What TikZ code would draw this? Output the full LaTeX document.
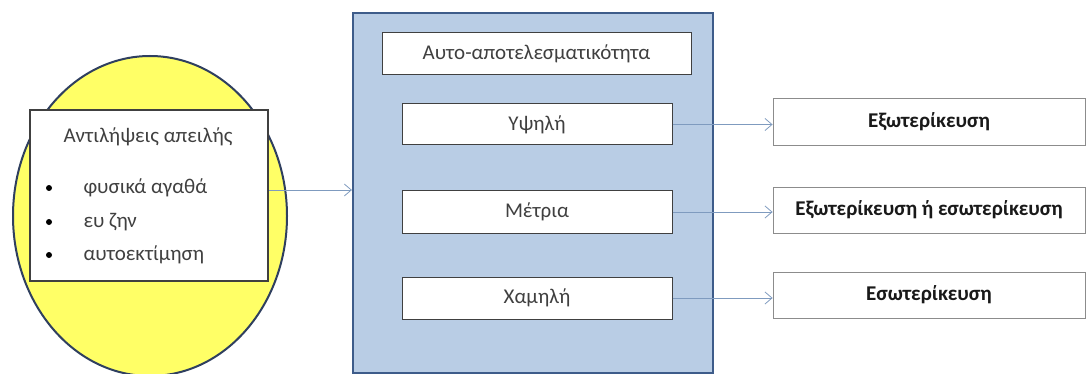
\documentclass[tikz,border=0pt]{standalone}
\usepackage{fontspec}
\setmainfont{Carlito}
\usetikzlibrary{arrows.meta}
\definecolor{ellfill}{HTML}{FFFF66}
\definecolor{bluefill}{HTML}{B9CDE5}
\definecolor{blueedge}{HTML}{3E5C8A}
\definecolor{elledge}{HTML}{2F3F5F}
\definecolor{arrowc}{HTML}{7F9BBF}
\definecolor{txt}{HTML}{404040}
\tikzset{
  txtf/.style={font=\fontsize{21}{25}\selectfont, text=txt},
  wbox/.style={draw=black!75, line width=1pt, fill=white, inner sep=0pt, txtf},
  rbox/.style={draw=black!45, line width=0.8pt, fill=white, inner sep=0pt, font=\bfseries\fontsize{21}{25}\selectfont, text=black!90},
  conn/.style={draw=arrowc, line width=0.8pt, -{Straight Barb[length=7pt,width=12pt]}},
}
\begin{document}
\begin{tikzpicture}[x=1pt,y=-1pt]
\useasboundingbox (0,0) rectangle (1086,374);
\fill[white] (0,0) rectangle (1086,374);
% ellipse
\begin{scope}
\clip (0,0) rectangle (1086,374);
\draw[fill=ellfill, draw=elledge, line width=2pt] (150,216) ellipse [x radius=137, y radius=160];
\end{scope}
% threat box
\node[draw=black!75, fill=white, inner sep=0pt, minimum width=238pt, minimum height=171pt, line width=1.5pt] (threat) at (149,195.5) {};
\node[txtf] (tt) at (148,137) {Αντιλήψεις απειλής};
\node[txtf, anchor=west] (b1) at (80,188) {φυσικά αγαθά};
\node[txtf, anchor=west] (b2) at (80,222) {ευ ζην};
\node[txtf, anchor=west] (b3) at (80,255) {αυτοεκτίμηση};
\fill[black] (49,188) circle (3pt) (49,222) circle (3pt) (49,255) circle (3pt);
% big blue box
\node[draw=blueedge, fill=bluefill, line width=2.2pt, minimum width=360pt, minimum height=360pt, inner sep=0pt] (big) at (533,193) {};
\node[wbox, minimum width=309pt, minimum height=42pt] (se) at (536.5,54) {Αυτο-αποτελεσματικότητα};
\node[wbox, minimum width=270pt, minimum height=41pt] (high) at (537,124.5) {Υψηλή};
\node[wbox, minimum width=270pt, minimum height=42pt] (mid) at (537,212) {Μέτρια};
\node[wbox, minimum width=270pt, minimum height=42pt] (low) at (537,298) {Χαμηλή};
% right boxes
\node[rbox, minimum width=312pt, minimum height=47pt] (ext) at (929,121.5) {Εξωτερίκευση};
\node[rbox, minimum width=312pt, minimum height=46pt] (both) at (929,210) {Εξωτερίκευση ή εσωτερίκευση};
\node[rbox, minimum width=312pt, minimum height=46pt] (int) at (929,295) {Εσωτερίκευση};
% connectors
\draw[conn] (threat.east |- 0,190) -- (big.west |- 0,190);
\draw[conn] (high.east) -- (ext.west |- high.east);
\draw[conn] (mid.east) -- (both.west |- mid.east);
\draw[conn] (low.east) -- (int.west |- low.east);
\end{tikzpicture}
\end{document}
